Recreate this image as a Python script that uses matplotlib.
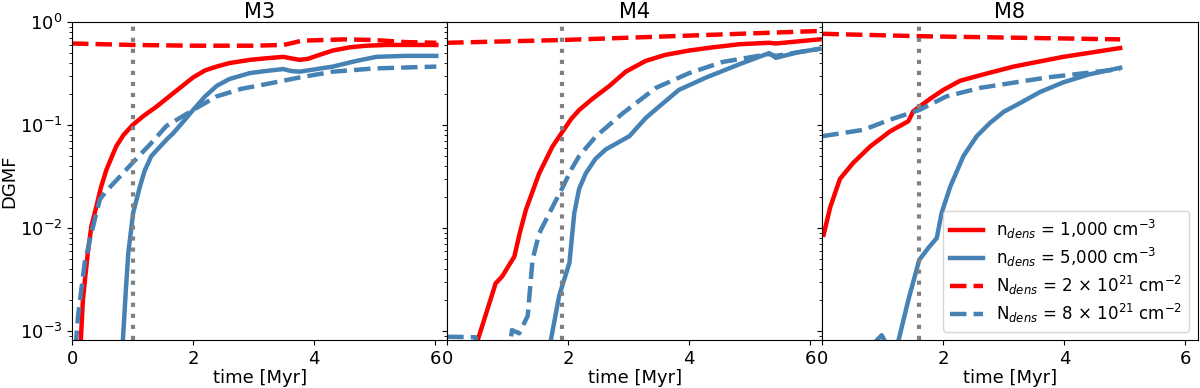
import numpy as np
import matplotlib
matplotlib.use("Agg")
import matplotlib.pyplot as plt

# ---- data ----
panels = ["M3", "M4", "M8"]
t_vline = [1.0, 1.9, 1.6]

# M3
m3_red_t = [0.14, 0.18, 0.26, 0.32, 0.40, 0.48, 0.57, 0.73, 0.85, 1.0, 1.2, 1.39, 1.7, 2.0, 2.2, 2.39, 2.6, 2.94, 3.2, 3.49, 3.62, 3.76, 3.9, 4.04, 4.31, 4.6, 4.86, 5.2, 6.02]
m3_red_y = [7e-4, 2.0e-3, 5.7e-3, 0.0104, 0.016, 0.025, 0.037, 0.062, 0.08, 0.10, 0.125, 0.15, 0.21, 0.29, 0.34, 0.37, 0.40, 0.43, 0.445, 0.46, 0.445, 0.43, 0.44, 0.47, 0.53, 0.57, 0.59, 0.60, 0.60]
m3_blue_t = [0.82, 0.84, 0.89, 0.93, 1.01, 1.12, 1.2, 1.31, 1.56, 1.67, 1.85, 2.0, 2.2, 2.39, 2.6, 2.94, 3.2, 3.49, 3.62, 3.76, 4.31, 4.7, 5.03, 5.5, 6.02]
m3_blue_y = [6e-4, 8e-4, 2.5e-3, 5.7e-3, 0.014, 0.025, 0.036, 0.05, 0.072, 0.083, 0.11, 0.14, 0.19, 0.24, 0.28, 0.32, 0.335, 0.35, 0.335, 0.33, 0.37, 0.42, 0.46, 0.47, 0.47]
m3_rdash_t = [0.0, 1.0, 2.0, 3.0, 3.5, 3.8, 4.5, 5.0, 5.5, 6.02]
m3_rdash_y = [0.62, 0.60, 0.59, 0.59, 0.60, 0.66, 0.68, 0.67, 0.64, 0.63]
m3_bdash_t = [0.06, 0.10, 0.21, 0.32, 0.46, 0.57, 0.8, 1.0, 1.3, 1.56, 2.0, 2.39, 2.8, 3.21, 3.76, 4.31, 5.0, 6.02]
m3_bdash_y = [7e-4, 1.4e-3, 4.6e-3, 8.9e-3, 0.019, 0.023, 0.032, 0.043, 0.066, 0.098, 0.14, 0.19, 0.225, 0.25, 0.29, 0.33, 0.355, 0.37]

# M4
m4_red_t = [0.50, 0.80, 0.91, 1.11, 1.20, 1.30, 1.52, 1.74, 1.91, 2.05, 2.18, 2.4, 2.68, 2.95, 3.28, 3.6, 4.0, 4.4, 4.83, 5.32, 5.43, 5.8, 6.15]
m4_red_y = [8e-4, 2.9e-3, 3.4e-3, 5.3e-3, 9e-3, 0.015, 0.034, 0.062, 0.087, 0.115, 0.14, 0.18, 0.24, 0.33, 0.42, 0.48, 0.53, 0.57, 0.61, 0.63, 0.62, 0.65, 0.68]
m4_blue_t = [1.71, 1.85, 2.02, 2.10, 2.18, 2.29, 2.45, 2.62, 3.01, 3.28, 3.55, 3.83, 4.28, 4.83, 5.32, 5.43, 5.8, 6.15]
m4_blue_y = [8e-4, 2.2e-3, 4.6e-3, 0.014, 0.024, 0.034, 0.047, 0.058, 0.078, 0.117, 0.16, 0.22, 0.29, 0.39, 0.50, 0.45, 0.51, 0.55]
m4_rdash_t = [0.0, 1.9, 4.0, 6.15]
m4_rdash_y = [0.63, 0.67, 0.74, 0.82]
m4_bdash_t = [0.0, 0.47, 0.50, 1.02, 1.07, 1.19, 1.33, 1.41, 1.52, 1.74, 1.91, 2.05, 2.18, 2.46, 2.90, 3.45, 4.0, 4.55, 5.32, 5.43, 6.15]
m4_bdash_y = [8.8e-4, 8.7e-4, 6e-4, 6e-4, 1.02e-3, 9.5e-4, 1.4e-3, 4.9e-3, 8.9e-3, 0.016, 0.025, 0.037, 0.05, 0.078, 0.13, 0.23, 0.32, 0.41, 0.49, 0.47, 0.55]

# M8
m8_red_t = [0.02, 0.13, 0.29, 0.51, 0.79, 1.12, 1.42, 1.50, 1.78, 2.0, 2.28, 2.7, 3.16, 3.98, 4.92]
m8_red_y = [8.6e-3, 0.016, 0.03, 0.043, 0.062, 0.087, 0.109, 0.136, 0.18, 0.22, 0.27, 0.315, 0.37, 0.46, 0.56]
m8_blue_t = [0.68, 0.98, 1.15, 1.26, 1.42, 1.60, 1.75, 1.89, 1.97, 2.11, 2.33, 2.55, 2.77, 3.0, 3.27, 3.6, 3.98, 4.4, 4.92]
m8_blue_y = [6e-4, 9.1e-4, 6e-4, 8.2e-4, 2.0e-3, 4.9e-3, 6.4e-3, 8e-3, 0.014, 0.025, 0.05, 0.078, 0.105, 0.135, 0.164, 0.21, 0.26, 0.31, 0.36]
m8_rdash_t = [0.0, 1.6, 4.92]
m8_rdash_y = [0.77, 0.73, 0.68]
m8_bdash_t = [0.0, 0.68, 1.12, 1.60, 2.05, 2.61, 3.71, 4.92]
m8_bdash_y = [0.078, 0.090, 0.113, 0.14, 0.19, 0.23, 0.29, 0.35]

series = [
    (m3_red_t, m3_red_y, m3_blue_t, m3_blue_y, m3_rdash_t, m3_rdash_y, m3_bdash_t, m3_bdash_y),
    (m4_red_t, m4_red_y, m4_blue_t, m4_blue_y, m4_rdash_t, m4_rdash_y, m4_bdash_t, m4_bdash_y),
    (m8_red_t, m8_red_y, m8_blue_t, m8_blue_y, m8_rdash_t, m8_rdash_y, m8_bdash_t, m8_bdash_y),
]

labels = [r'n$_{dens}$ = 1,000 cm$^{-3}$',
          r'n$_{dens}$ = 5,000 cm$^{-3}$',
          r'N$_{dens}$ = 2 $\times$ 10$^{21}$ cm$^{-2}$',
          r'N$_{dens}$ = 8 $\times$ 10$^{21}$ cm$^{-2}$']

plt.rcParams['font.size'] = 13

fig, axes = plt.subplots(1, 3, figsize=(12, 3.88), dpi=100, sharey=True)
fig.subplots_adjust(left=0.06, right=0.998, top=0.943, bottom=0.124, wspace=0)

for ax, name, tv, s in zip(axes, panels, t_vline, series):
    rt, ry, bt, by, rdt, rdy, bdt, bdy = s
    ax.plot(rt, ry, color='red', lw=3.2, label=labels[0])
    ax.plot(bt, by, color='steelblue', lw=3.2, label=labels[1])
    ax.plot(rdt, rdy, color='red', lw=3.2, ls='--', label=labels[2])
    ax.plot(bdt, bdy, color='steelblue', lw=3.2, ls='--', label=labels[3])
    ax.axvline(tv, color='gray', lw=3, ls=':')
    ax.set_yscale('log')
    ax.set_xlim(0, 6.2)
    ax.set_ylim(8.2e-4, 1)
    ax.set_xticks([0, 2, 4, 6])
    ax.set_title(name, fontsize=15, pad=3)
    ax.set_xlabel('time [Myr]', labelpad=1)

axes[0].set_ylabel('DGMF', labelpad=1)
axes[2].legend(loc='lower right', fontsize=12, handlelength=2, labelspacing=0.3)

fig.savefig('out.png')
